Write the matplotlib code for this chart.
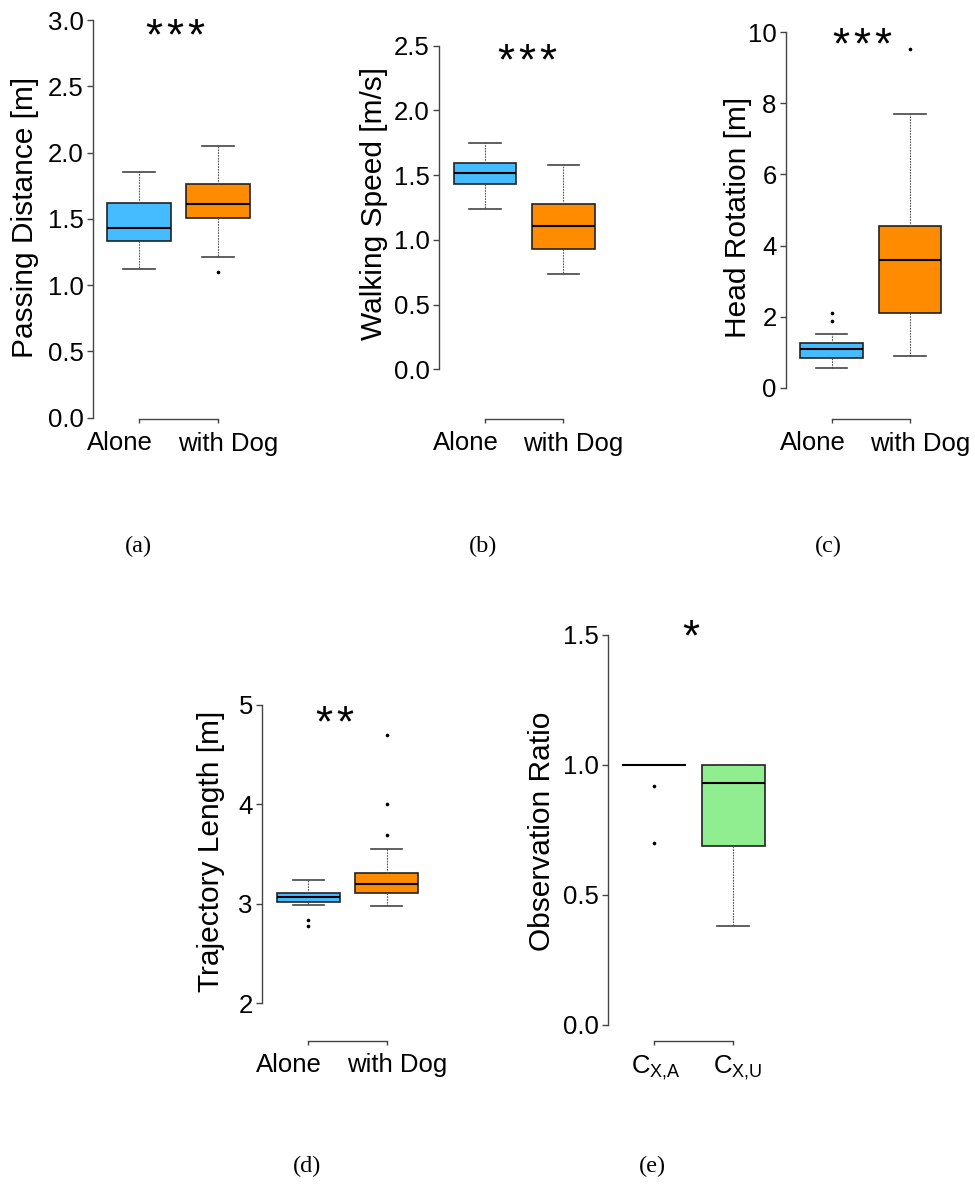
import numpy as np
import matplotlib.pyplot as plt
from matplotlib.transforms import ScaledTranslation

plt.rcParams['font.family'] = ['Liberation Sans', 'DejaVu Sans']
plt.rcParams['mathtext.fontset'] = 'custom'
plt.rcParams['mathtext.rm'] = 'Liberation Sans'

W, H = 975, 1184
fig = plt.figure(figsize=(W / 100, H / 100), dpi=100)

# Data: whislo, q1, median, q3, whishi  (+ outliers)
groups = ['Alone', 'with Dog']
obs_groups = [r'$\mathregular{C_{X{,}A}}$', r'$\mathregular{C_{X{,}U}}$']

passing_alone = [1.12, 1.33, 1.43, 1.62, 1.85]
passing_dog = [1.21, 1.51, 1.61, 1.76, 2.05]
passing_out = [[], [1.10]]

speed_alone = [1.24, 1.43, 1.52, 1.59, 1.75]
speed_dog = [0.74, 0.93, 1.11, 1.28, 1.58]
speed_out = [[], []]

head_alone = [0.56, 0.84, 1.08, 1.27, 1.50]
head_dog = [0.89, 2.09, 3.59, 4.54, 7.70]
head_out = [[1.88, 2.09], [9.52]]

traj_alone = [2.99, 3.02, 3.07, 3.11, 3.24]
traj_dog = [2.98, 3.11, 3.20, 3.31, 3.55]
traj_out = [[2.78, 2.84], [3.69, 4.00, 4.70]]

obs_a = [1.0, 1.0, 1.0, 1.0, 1.0]
obs_u = [0.38, 0.69, 0.93, 1.0, 1.0]
obs_out = [[0.70, 0.92], []]

blue = '#45BCFF'
orange = '#FF8C00'
green = '#90EE90'


def stats(vals, out):
    lo, q1, med, q3, hi = vals
    return dict(whislo=lo, q1=q1, med=med, q3=q3, whishi=hi, fliers=out)


def panel(x0, c1, c2, tv, tp, yb, yt, boxes, outs, colors, ticklabels,
          ylabel, lab_xy, nstars, star_xy, caption, cap_xy, xlabels, xshift):
    ppu = c2 - c1
    xl = 1 - (c1 - x0) / ppu
    xr = 2 + (c1 - x0) / ppu
    yppu = (tp[0] - tp[-1]) / (tv[-1] - tv[0])

    def val(py):
        return tv[0] + (tp[0] - py) / yppu

    ax = fig.add_axes([x0 / W, 1 - yb / H, (xr - xl) * ppu / W, (yb - yt) / H])
    bp = ax.bxp([stats(b, o) for b, o in zip(boxes, outs)], positions=[1, 2],
                widths=0.8, capwidths=0.4, patch_artist=True,
                boxprops=dict(edgecolor='#222222', linewidth=1.2),
                medianprops=dict(color='black', linewidth=1.5),
                whiskerprops=dict(color='#555555', linewidth=0.8,
                                  linestyle=(0, (1.5, 1.0))),
                capprops=dict(color='#444444', linewidth=1.2),
                flierprops=dict(marker='o', markersize=1.6,
                                markerfacecolor='black', markeredgecolor='black'))
    for patch, c in zip(bp['boxes'], colors):
        patch.set_facecolor(c)
    ax.set_xlim(xl, xr)
    ax.set_ylim(val(yb), val(yt))

    for s in ['top', 'right']:
        ax.spines[s].set_visible(False)
    ax.spines['left'].set_bounds(tv[0], tv[-1])
    ax.spines['bottom'].set_bounds(1, 2)
    for s in ['left', 'bottom']:
        ax.spines[s].set_color('#444444')
        ax.spines[s].set_linewidth(1.0)

    ax.set_yticks(tv)
    ax.set_yticklabels(ticklabels)
    ax.tick_params(axis='y', length=4.3, width=1.0, color='#444444',
                   pad=2.5, labelsize=18.5)
    ax.set_xticks([1, 2])
    ax.set_xticklabels(xlabels)
    ax.tick_params(axis='x', length=3, width=1.0, color='#444444',
                   pad=6, labelsize=18.5)
    for lab, dx in zip(ax.get_xticklabels(), xshift):
        lab.set_transform(lab.get_transform() +
                          ScaledTranslation(dx / 100, 0, fig.dpi_scale_trans))

    fig.text(lab_xy[0] / W, 1 - lab_xy[1] / H, ylabel, rotation=90,
             ha='center', va='center', fontsize=21.5)
    # significance stars, spaced like the original
    fs_px = 44
    for k in range(nstars):
        sx = star_xy[0] + (k - (nstars - 1) / 2) * 21
        ax.text(1 + (sx - c1) / ppu, val(star_xy[1] + 0.47 * fs_px), '*',
                ha='center', va='baseline', fontsize=fs_px * 0.72)
    fig.text(cap_xy[0] / W, 1 - cap_xy[1] / H, caption, ha='center',
             va='center', fontsize=17.5, family='Liberation Serif')
    return ax


panel(93, 139, 218, [0, 0.5, 1.0, 1.5, 2.0, 2.5, 3.0], [417.7, 20.0], 419, 5,
      [passing_alone, passing_dog], passing_out, [blue, orange],
      ['0.0', '0.5', '1.0', '1.5', '2.0', '2.5', '3.0'],
      'Passing Distance [m]', (25, 217), 3, (175, 29), '(a)', (138, 546),
      groups, [-19, 10])

panel(439.3, 485, 563.3, [0, 0.5, 1.0, 1.5, 2.0, 2.5], [369.3, 45.7], 419, 5,
      [speed_alone, speed_dog], speed_out, [blue, orange],
      ['0.0', '0.5', '1.0', '1.5', '2.0', '2.5'],
      'Walking Speed [m/s]', (374, 203), 3, (527, 54), '(b)', (483, 546),
      groups, [-19, 10])

panel(786, 831.7, 910, [0, 2, 4, 6, 8, 10], [387.7, 32.3], 419, 5,
      [head_alone, head_dog], head_out, [blue, orange],
      ['0', '2', '4', '6', '8', '10'],
      'Head Rotation [m]', (738, 217), 3, (862, 37.5), '(c)', (828, 546),
      groups, [-19, 10])

panel(262.3, 308.3, 386.7, [2, 3, 4, 5], [1003.3, 705.0], 1040.7, 680,
      [traj_alone, traj_dog], traj_out, [blue, orange],
      ['2', '3', '4', '5'],
      'Trajectory Length [m]', (211, 851), 2, (334.5, 716), '(d)', (307, 1166),
      groups, [-19, 10])

panel(608.3, 654, 733.3, [0, 0.5, 1.0, 1.5], [1025.0, 635.0], 1040.7, 600,
      [obs_a, obs_u], obs_out, [green, green],
      ['0.0', '0.5', '1.0', '1.5'],
      'Observation Ratio', (542, 831), 1, (690.5, 630), '(e)', (652, 1166),
      obs_groups, [2, 4])

plt.savefig('out.png', dpi=100)
